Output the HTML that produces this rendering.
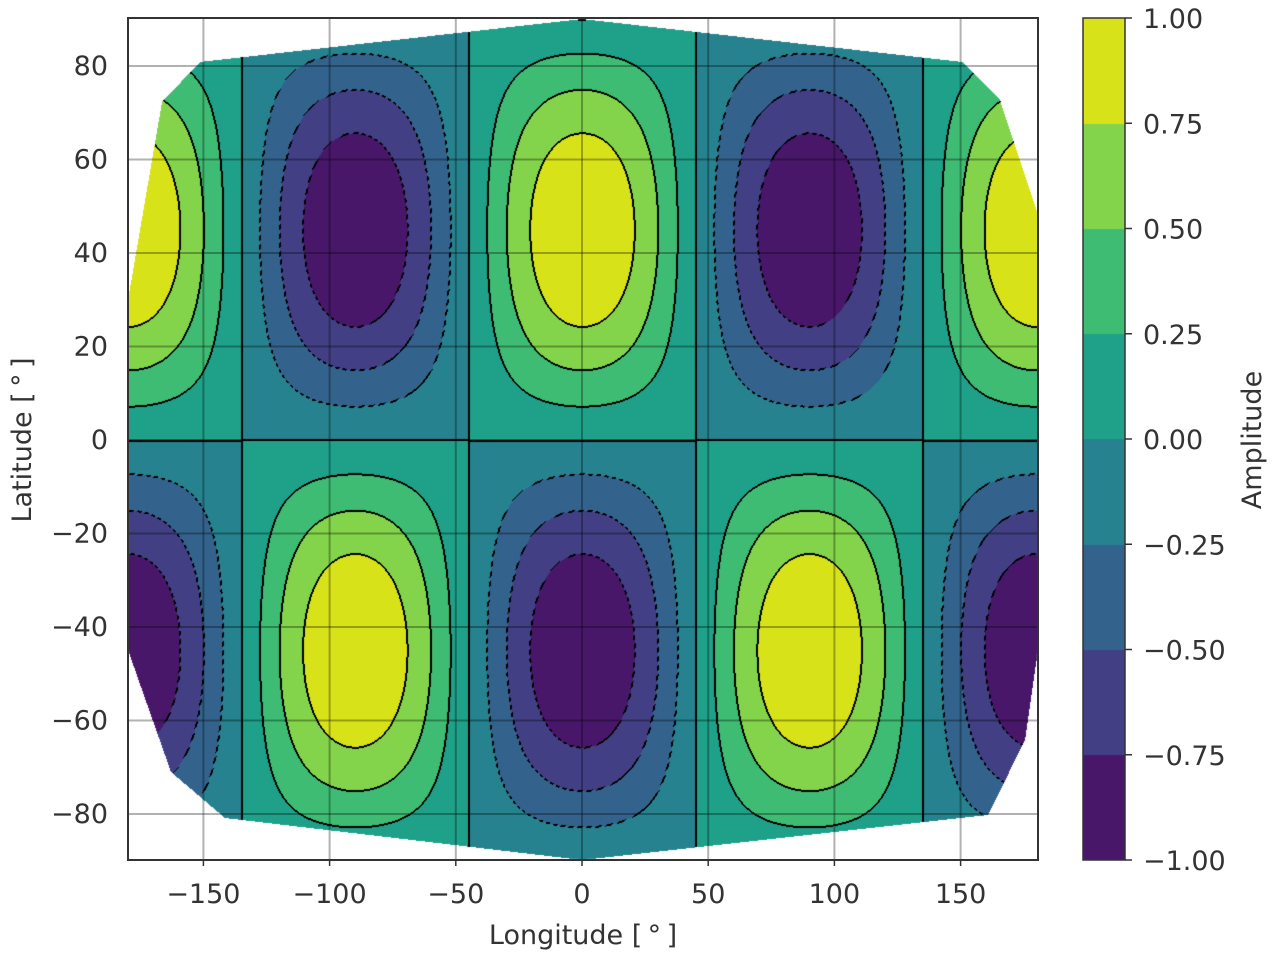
<!DOCTYPE html>
<html><head><meta charset="utf-8"><style>
body{margin:0;background:#fff;width:1280px;height:960px;overflow:hidden;font-family:"DejaVu Sans","Liberation Sans",sans-serif}
#c{position:absolute;left:0;top:0}
svg{position:absolute;left:0;top:0}
text{fill:#333;font-size:27px}
</style></head><body>
<canvas id="c" width="1280" height="960"></canvas>
<svg width="1280" height="960" id="s"></svg>
<script>
const cols=["#481769","#423f85","#33638d","#26828e","#1fa088","#3fbc73","#84d44b","#d8e219"];
const rgb=cols.map(h=>[parseInt(h.substr(1,2),16),parseInt(h.substr(3,2),16),parseInt(h.substr(5,2),16)]);
const poly=[[582,19],[962,62],[1000,100],[1038,215],[1038,650],[1025,740],[988,815],[582,860],[225,818],[171,772],[128,650],[128,300],[162,102],[200,62]];
const c=document.getElementById('c'),ctx=c.getContext('2d');
ctx.fillStyle='#fff';ctx.fillRect(0,0,1280,960);
const m=document.createElement('canvas');m.width=1280;m.height=960;const mc=m.getContext('2d');
mc.beginPath();poly.forEach((p,i)=>i?mc.lineTo(p[0],p[1]):mc.moveTo(p[0],p[1]));mc.closePath();mc.fill();
const md=mc.getImageData(0,0,1280,960).data;
const X0=128,X1=1038,Y0=18,Y1=861;
const W=1280,band=new Int8Array(W*960).fill(-1);
const d2r=Math.PI/180;
for(let y=Y0;y<Y1;y++)for(let x=X0;x<X1;x++){const i=y*W+x;if(md[i*4+3]<128)continue;
 const lon=(x-582)/2.524,lat=(440-y)/4.675;const v=Math.cos(2*lon*d2r)*Math.sin(2*lat*d2r);
 let b=Math.floor((v+1)/0.25);if(b>7)b=7;if(b<0)b=0;band[i]=b;}
const img=ctx.getImageData(0,0,1280,960),D=img.data;
for(let y=Y0;y<Y1;y++)for(let x=X0;x<X1;x++){const i=y*W+x,b=band[i];if(b<0)continue;
 let col=rgb[b];
 let edge=-1;
 for(const o of[1,W,-1,-W]){const n=band[i+o];if(n>=0&&n!==b){edge=Math.max(n,b);if(o===1||o===W)break;}}
 if(edge>=0){const lvl=-1+edge*0.25;if(lvl>=-0.001||((x+y)%9)<5)col=[0,0,0];}
 D[i*4]=col[0];D[i*4+1]=col[1];D[i*4+2]=col[2];D[i*4+3]=255;}
for(let y=18;y<860;y++){const b=7-Math.floor((y-18)/(842/8));const col=rgb[Math.max(0,Math.min(7,b))];
 for(let x=1083;x<1125;x++){const i=(y*W+x)*4;D[i]=col[0];D[i+1]=col[1];D[i+2]=col[2];}}
ctx.putImageData(img,0,0);
let s='';
for(const lo of[-150,-100,-50,0,50,100,150]){const x=582+lo*2.524;s+=`<line x1="${x}" y1="18" x2="${x}" y2="860" stroke="#000" stroke-opacity="0.3" stroke-width="2"/>`;
 s+=`<line x1="${x}" y1="860" x2="${x}" y2="866" stroke="#333" stroke-width="1.5"/><text x="${x}" y="903" text-anchor="middle">${lo<0?'\u2212'+(-lo):lo}</text>`;}
for(const la of[-80,-60,-40,-20,0,20,40,60,80]){const y=440-la*4.675;s+=`<line x1="128" y1="${y}" x2="1038" y2="${y}" stroke="#000" stroke-opacity="0.3" stroke-width="2"/>`;
 s+=`<text x="108" y="${y+9}" text-anchor="end">${la<0?'\u2212'+(-la):la}</text>`;}
s+=`<rect x="128" y="18" width="910" height="842" fill="none" stroke="#333" stroke-width="2"/>`;
s+=`<rect x="1083" y="18" width="42" height="842" fill="none" stroke="#333" stroke-width="1.5"/>`;
const cl=["1.00","0.75","0.50","0.25","0.00","\u22120.25","\u22120.50","\u22120.75","\u22121.00"];
cl.forEach((t,i)=>{const y=18+i*842/8;s+=`<line x1="1125" y1="${y}" x2="1132" y2="${y}" stroke="#333" stroke-width="1.5"/><text x="1143" y="${y+10}">${t}</text>`;});
s+=`<text x="583" y="944" text-anchor="middle">Longitude [\u2009\u00b0\u2009]</text>`;
s+=`<text transform="translate(31,440) rotate(-90)" text-anchor="middle">Latitude [\u2009\u00b0\u2009]</text>`;
s+=`<text transform="translate(1261,440) rotate(-90)" text-anchor="middle">Amplitude</text>`;
document.getElementById('s').innerHTML=s;
</script>
</body></html>
